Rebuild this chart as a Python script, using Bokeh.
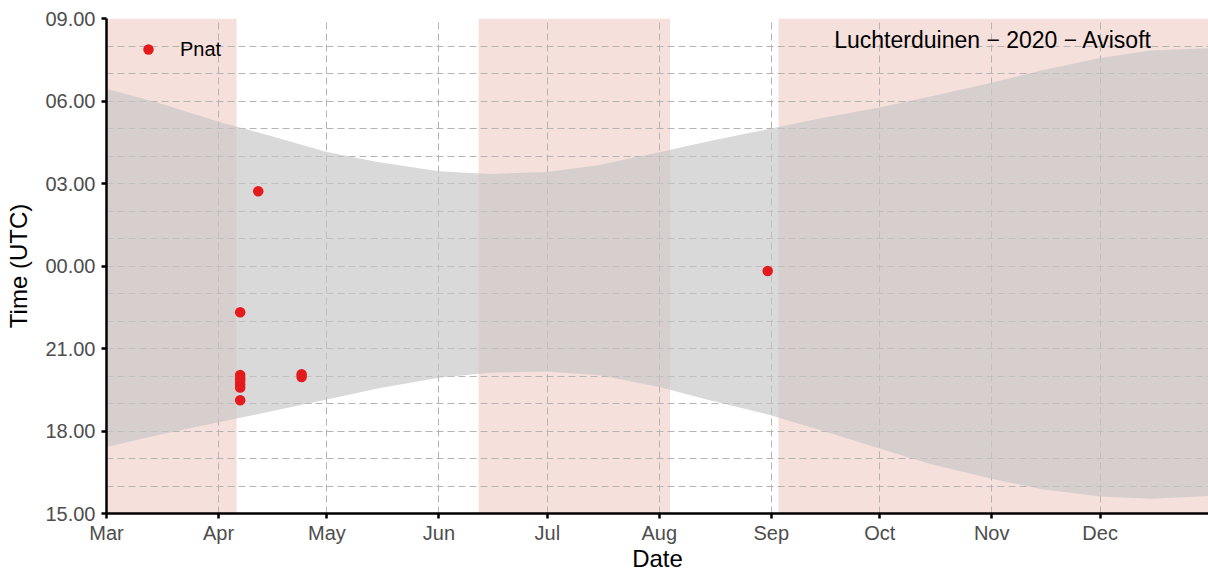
import pandas as pd
from bokeh.plotting import figure
from bokeh.models import Range1d, FixedTicker, DatetimeTickFormatter, Label
from bokeh.embed import file_html
from bokeh.resources import INLINE

# ---------------- data ----------------
title_text = "Luchterduinen \u2212 2020 \u2212 Avisoft"
species = "Pnat"

month_ticks = ["2020-03-01", "2020-04-01", "2020-05-01", "2020-06-01", "2020-07-01",
               "2020-08-01", "2020-09-01", "2020-10-01", "2020-11-01", "2020-12-01"]
hour_ticks = [0, 3, 6, 9, 12, 15, 18]
hour_tick_labels = ["15.00", "18.00", "21.00", "00.00", "03.00", "06.00", "09.00"]

# recording periods (pink shading)
shade_start = ["2020-03-01", "2020-06-12", "2020-09-03"]
shade_end = ["2020-04-06", "2020-08-04", "2020-12-31"]

# night (sunset -> sunrise), UTC
sun_dates = ["2020-03-01", "2020-03-15", "2020-04-01", "2020-04-15", "2020-05-01",
             "2020-05-15", "2020-06-01", "2020-06-15", "2020-07-01", "2020-07-15",
             "2020-08-01", "2020-08-15", "2020-09-01", "2020-09-15", "2020-10-01",
             "2020-10-15", "2020-11-01", "2020-11-15", "2020-12-01", "2020-12-15",
             "2020-12-31"]
sunrise = ["06:27", "05:57", "05:15", "04:45", "04:09", "03:47", "03:27", "03:21",
           "03:25", "03:40", "04:08", "04:33", "05:00", "05:23", "05:46", "06:10",
           "06:40", "07:07", "07:34", "07:50", "07:55"]
sunset = ["17:25", "17:51", "18:19", "18:42", "19:09", "19:33", "19:56", "20:07",
          "20:10", "20:02", "19:36", "19:07", "18:34", "18:01", "17:22", "16:48",
          "16:16", "15:53", "15:37", "15:32", "15:38"]

# detections
det_dates = ["2020-04-07", "2020-04-07", "2020-04-07", "2020-04-07", "2020-04-07",
             "2020-04-07", "2020-04-07", "2020-04-12", "2020-04-24", "2020-04-24",
             "2020-08-31"]
det_times = ["22:19", "20:02", "19:55", "19:49", "19:42", "19:35", "19:07",
             "02:43", "20:04", "19:58", "23:49"]


def hrs(t):
    """hours after 15:00 (axis runs 15:00 -> 09:00 next day)"""
    h, m = t.split(":")
    return (int(h) + int(m) / 60.0 - 15.0) % 24.0


# ---------------- figure ----------------
FONT = "Liberation Sans"
p = figure(width=1208, height=576, x_axis_type="datetime",
           x_range=Range1d(pd.Timestamp("2020-03-01"), pd.Timestamp("2020-12-31")),
           y_range=Range1d(0, 18),
           output_backend="svg", toolbar_location=None,
           min_border_left=106, min_border_right=0, min_border_top=18, min_border_bottom=63,
           background_fill_color="white", border_fill_color="white")
p.outline_line_color = None

p.quad(left=pd.to_datetime(shade_start), right=pd.to_datetime(shade_end),
       bottom=0, top=18, fill_color="#f6e0dc", line_color=None, level="image")

p.varea(x=pd.to_datetime(sun_dates), y1=[hrs(t) for t in sunset], y2=[hrs(t) for t in sunrise],
        fill_color="#c6c6c6", fill_alpha=0.67)

p.scatter(x=pd.to_datetime(det_dates), y=[hrs(t) for t in det_times], size=10.5,
          fill_color="#e41a1c", line_color=None, legend_label=species)

# grid
month_ms = [pd.Timestamp(d).value // 10**6 for d in month_ticks]
p.xgrid.ticker = FixedTicker(ticks=month_ms[1:])
p.ygrid.ticker = FixedTicker(ticks=list(range(1, 18)))
for g in (p.xgrid, p.ygrid):
    g.grid_line_color = "#b4b4b4"
    g.grid_line_width = 1
    g.grid_line_dash = "7 4"

# axes
p.xaxis.ticker = FixedTicker(ticks=month_ms)
p.xaxis.formatter = DatetimeTickFormatter(months="%b", days="%b", years="%b")
p.yaxis.ticker = FixedTicker(ticks=hour_ticks)
p.yaxis.major_label_overrides = dict(zip(hour_ticks, hour_tick_labels))
p.xaxis.axis_label = "Date"
p.yaxis.axis_label = "Time (UTC)"
for ax in (p.xaxis, p.yaxis):
    ax.axis_line_color = "black"
    ax.axis_line_width = 2.5
    ax.major_tick_line_color = "black"
    ax.major_tick_line_width = 2.5
    ax.major_tick_out = 5
    ax.major_tick_in = 0
    ax.minor_tick_line_color = None
    ax.major_label_text_font = FONT
    ax.major_label_text_font_size = "20px"
    ax.major_label_text_color = "#4d4d4d"
    ax.axis_label_text_font = FONT
    ax.axis_label_text_font_size = "24px"
    ax.axis_label_text_font_style = "normal"
    ax.axis_label_text_color = "black"
p.xaxis.major_label_standoff = 3
p.xaxis.axis_label_standoff = -2
p.yaxis.major_label_standoff = 6
p.yaxis.axis_label_standoff = 10

# legend
lg = p.legend[0]
lg.location = "top_left"
lg.margin = 18
lg.padding = 0
lg.glyph_width = 48
lg.glyph_height = 26
lg.label_standoff = 8
lg.label_text_font = FONT
lg.label_text_font_size = "20px"
lg.label_text_color = "black"
lg.background_fill_alpha = 0
lg.border_line_color = None

# title inside plot
p.add_layout(Label(x=pd.Timestamp("2020-11-01 10:00").value / 1e6, y=17.23,
                   text=title_text, text_align="center", text_baseline="alphabetic",
                   text_font=FONT, text_font_size="23px", text_color="black"))

open("out.html", "w").write(file_html(p, INLINE))
